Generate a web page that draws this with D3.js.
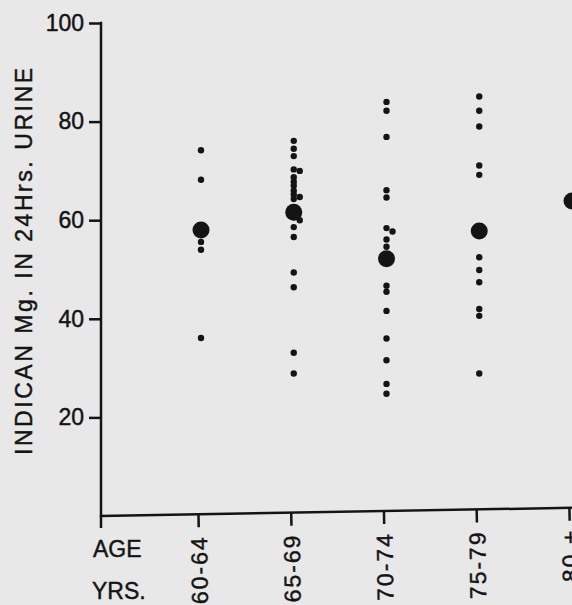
<!DOCTYPE html>
<html>
<head>
<meta charset="utf-8">
<script src="https://cdn.jsdelivr.net/npm/d3@7"></script>
<style>
  html, body { margin: 0; padding: 0; background: #e8e8e8; overflow: hidden; }
  svg { display: block; font-family: 'Liberation Sans', Arial, sans-serif; }
  svg text { stroke: #141414; stroke-width: 0.45px; }
</style>
</head>
<body>
<div id="chart"></div>
<script>
// Age groups along the bottom
const ageGroups = ['60-64', '65-69', '70-74', '75-79', '80 +'];

// Indican (mg in 24 hrs urine), one array per age group
const indican6064 = [74.2, 68.2, 55.6, 54.0, 36.1];
const indican6569 = [76.1, 74.5, 73.0, 70.3, 70.0, 68.7, 67.8, 67.0, 66.0, 65.2,
                     64.7, 64.3, 60.6, 60.0, 58.6, 56.6, 49.4, 46.4, 33.1, 28.9];
const indican7074 = [84.0, 82.2, 76.9, 66.1, 64.6, 58.4, 57.7, 56.1, 54.6, 46.7,
                     45.5, 41.6, 36.0, 31.6, 26.8, 24.8];
const indican7579 = [85.1, 82.2, 79.0, 71.1, 69.2, 52.5, 49.9, 47.4, 42.0, 40.6, 28.9];
const indican80 = []; // cut off in the original

// Group means (large dots)
const groupMeans = [58.0, 61.6, 52.2, 57.8, 63.9];

// Y axis ticks
const yTicks = [20, 40, 60, 80, 100];

const yLabel = 'INDICAN Mg. IN 24Hrs. URINE';

class DotChart {

  constructor(_config, _groups) {
    this.config = {
      parentElement: _config.parentElement,
      containerWidth: _config.containerWidth || 572,
      containerHeight: _config.containerHeight || 605
    }
    this.groups = _groups;
    this.initVis();
  }

  initVis() {
    const vis = this;
    const W = vis.config.containerWidth, H = vis.config.containerHeight;
    const ink = '#141414';
    const x0 = 101;       // y axis position
    const tickLen = 12;

    vis.svg = d3.select(vis.config.parentElement)
        .append('svg')
        .attr('width', W)
        .attr('height', H);

    vis.svg.append('rect').attr('width', W).attr('height', H).attr('fill', '#e8e8e8');

    // Scales
    vis.yScale = d3.scaleLinear().domain([0, 100]).range([516, 23]);
    vis.xScale = d3.scalePoint().domain(ageGroups).range([198, 569]);

    // Y axis
    vis.yAxis = d3.axisLeft(vis.yScale)
        .tickValues(yTicks)
        .tickSize(tickLen)
        .tickPadding(5);

    const yg = vis.svg.append('g')
        .attr('transform', `translate(${x0},0)`)
        .call(vis.yAxis);
    yg.select('.domain').remove();
    yg.selectAll('.tick line').attr('stroke', ink).attr('stroke-width', 2.5);
    yg.selectAll('.tick text')
        .attr('fill', ink)
        .style('font-size', '23px')
        .style('font-family', "'Liberation Sans', Arial, sans-serif");
    yg.append('line')
        .attr('x1', 0).attr('x2', 0)
        .attr('y1', vis.yScale(100) - 1.2)
        .attr('y2', vis.yScale(0) + tickLen)
        .attr('stroke', ink).attr('stroke-width', 2.5);

    // X axis (slightly tilted, like the scan)
    vis.xAxis = d3.axisBottom(vis.xScale).tickSize(13).tickPadding(8);
    const xg = vis.svg.append('g')
        .attr('transform', `translate(0,${vis.yScale(0)}) rotate(-1, ${x0}, 0)`)
        .call(vis.xAxis);
    xg.select('.domain').remove();
    xg.append('line')
        .attr('x1', x0 - 1.2).attr('x2', W + 5)
        .attr('y1', 0).attr('y2', 0)
        .attr('stroke', ink).attr('stroke-width', 2.5);
    xg.selectAll('.tick line').attr('stroke', ink).attr('stroke-width', 2.5);
    xg.selectAll('.tick text')
        .attr('fill', ink)
        .attr('transform', 'rotate(-90)')
        .attr('x', -21)
        .attr('y', 0)
        .attr('dy', '0.35em')
        .style('text-anchor', 'end')
        .style('font-size', '23px')
        .style('letter-spacing', '2px')
        .style('font-family', "'Liberation Sans', Arial, sans-serif");

    // AGE / YRS. labels
    vis.svg.append('text')
        .attr('x', 93).attr('y', 557)
        .attr('fill', ink)
        .style('font-size', '23px')
        .text('AGE');
    vis.svg.append('text')
        .attr('x', 92).attr('y', 599)
        .attr('fill', ink)
        .style('font-size', '23px')
        .text('YRS.');

    // Y axis title
    vis.svg.append('text')
        .attr('transform', `translate(32, ${(68 + 455) / 2}) rotate(-90)`)
        .attr('text-anchor', 'middle')
        .attr('textLength', 387)
        .attr('lengthAdjust', 'spacing')
        .attr('fill', ink)
        .style('font-size', '23px')
        .text(yLabel);

    // Individual points, nudged sideways when they would overlap
    const dotR = 3.2, dotShift = 3;
    const points = [];
    vis.groups.forEach((vals, gi) => {
      const cx = vis.xScale(ageGroups[gi]) + dotShift;
      const placed = [];
      vals.forEach(v => {
        const cy = vis.yScale(v);
        let px = cx;
        for (const off of [0, 6, -6, 12, -12]) {
          const ok = placed.every(p => Math.hypot(p[0] - (cx + off), p[1] - cy) >= 3.5);
          if (ok) { px = cx + off; break; }
        }
        placed.push([px, cy]);
        points.push({ x: px, y: cy });
      });
    });

    vis.svg.append('g')
      .selectAll('circle')
      .data(points)
      .join('circle')
        .attr('cx', d => d.x)
        .attr('cy', d => d.y)
        .attr('r', dotR)
        .attr('fill', ink);

    // Means
    vis.svg.append('g')
      .selectAll('circle')
      .data(groupMeans)
      .join('circle')
        .attr('cx', (d, i) => vis.xScale(ageGroups[i]) + dotShift)
        .attr('cy', d => vis.yScale(d))
        .attr('r', 8.5)
        .attr('fill', ink);
  }
}

new DotChart({ parentElement: '#chart', containerWidth: 572, containerHeight: 605 },
  [indican6064, indican6569, indican7074, indican7579, indican80]);
</script>
</body>
</html>
